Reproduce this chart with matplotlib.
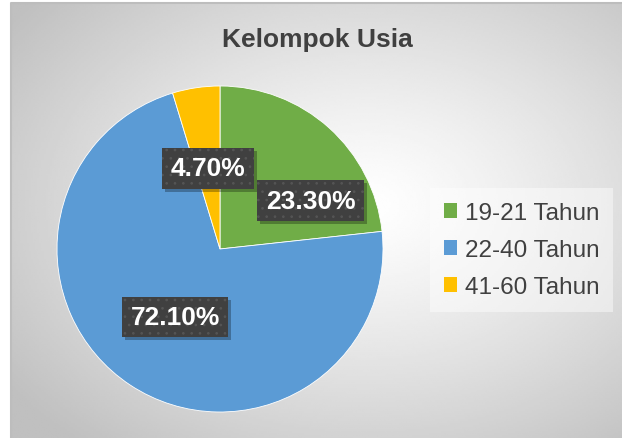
import matplotlib
matplotlib.use("Agg")
import matplotlib.pyplot as plt
import matplotlib.transforms as mtransforms
from matplotlib.patches import Rectangle
import numpy as np

plt.rcParams['font.family'] = ['Liberation Sans', 'DejaVu Sans']
plt.rcParams['hatch.linewidth'] = 0.7

# Data
categories = ["19-21 Tahun", "22-40 Tahun", "41-60 Tahun"]
shares = [23.30, 72.10, 4.70]  # %
colors = ["#70AD47", "#5B9BD5", "#FFC000"]
title = "Kelompok Usia"

# label placement: (angle shift in deg, radius) relative to slice mid-angle
label_pos = [(-20, 0.63), (0, 0.50), (0, 0.50)]

W, H = 622, 439
fig = plt.figure(figsize=(W / 100, H / 100), dpi=100)
fig.patch.set_facecolor("white")

# background: radial gradient panel like the Excel chart area
bg = fig.add_axes([0, 0, 1, 1])
bg.set_xlim(0, W)
bg.set_ylim(H, 0)
bg.axis("off")
x0, x1, y0, y1 = 11, W + 20, 4, H + 10
xx, yy = np.meshgrid(np.linspace(x0, x1, 300), np.linspace(y0, y1, 220))
cx, cy = (x0 + x1) / 2 + 40, (y0 + y1) / 2 - 20
d = np.sqrt(((xx - cx) / ((x1 - x0) / 2)) ** 2 + ((yy - cy) / ((y1 - y0) / 2)) ** 2) / np.sqrt(2)
shade = 1.0 - 0.25 * np.clip(d, 0, 1) ** 1.2
bg.imshow(shade, cmap="gray", vmin=0, vmax=1, extent=[x0, x1, y1, y0],
          aspect="auto", interpolation="bilinear")
bg.plot([x0, x0, W + 5], [H + 5, y0, y0], color="#bdbdbd", lw=1.5)

# pie
pcx, pcy, pr = 220, 250, 163
ax = fig.add_axes([(pcx - pr) / W, 1 - (pcy + pr) / H, 2 * pr / W, 2 * pr / H])
ax.patch.set_alpha(0)
wedges, _ = ax.pie(shares, colors=colors, startangle=90, counterclock=False,
                   wedgeprops=dict(edgecolor="white", linewidth=0.6))
ax.set_xlim(-1, 1)
ax.set_ylim(-1, 1)
ax.set_aspect("equal")

labels = []
for w, val, (shift, rad) in zip(wedges, shares, label_pos):
    ang = np.deg2rad((w.theta1 + w.theta2) / 2 + shift)
    tx, ty = rad * np.cos(ang), rad * np.sin(ang)
    t = ax.text(tx, ty, f"{val:.2f}%", ha="center", va="center", fontsize=19,
                fontweight="bold", color="white", zorder=10,
                bbox=dict(boxstyle="square,pad=0.32", facecolor="#404040",
                          edgecolor="#555555", linewidth=0, hatch=".."))
    labels.append(t)

fig.text(317 / W, 1 - 40 / H, title, ha="center", va="center", fontsize=19,
         fontweight="bold", color="#404040")

leg = fig.legend(wedges, categories, loc="center left",
                 bbox_to_anchor=(430 / W, 1 - 251 / H), borderaxespad=0,
                 fontsize=17.5, handlelength=0.55, handleheight=0.55,
                 handletextpad=0.3, labelspacing=0.62, borderpad=0.58,
                 frameon=True, fancybox=False)
leg.get_frame().set_facecolor("white")
leg.get_frame().set_alpha(0.45)
leg.get_frame().set_edgecolor("none")
for t in leg.get_texts():
    t.set_color("#404040")
for h in leg.legend_handles:
    h.set_edgecolor("none")

# drop shadows behind the label boxes (inside the pie axes, under the text)
fig.canvas.draw()
for t in labels:
    bb = t.get_bbox_patch().get_window_extent()
    ax.add_patch(Rectangle((bb.x0 + 3, bb.y0 - 3), bb.width, bb.height,
                           transform=mtransforms.IdentityTransform(),
                           facecolor="black", alpha=0.28, edgecolor="none",
                           zorder=4, clip_on=False))

fig.savefig("out.png", dpi=100)
